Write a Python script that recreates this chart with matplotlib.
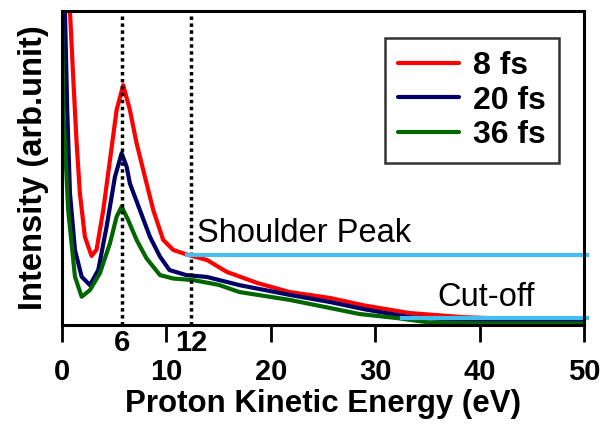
import matplotlib
matplotlib.use("Agg")
import matplotlib.pyplot as plt
import matplotlib.transforms as mtransforms

plt.rcParams["font.family"] = ["Liberation Sans", "DejaVu Sans"]

# ---------------------------------------------------------------------------
# Data (arbitrary intensity units)
# ---------------------------------------------------------------------------
red_x = [0.4, 0.77, 1.08, 1.41, 1.72, 2.2, 2.84, 3.32, 3.96, 4.6, 5.24, 5.87,
         6.51, 7.15, 7.95, 8.75, 9.7, 10.66, 12.1, 13.9, 15.8, 18.7, 21.8,
         25.7, 29.0, 33.3, 38.4, 44.0, 50.0]
red_y = [1.25, 1.0, 0.79, 0.579, 0.42, 0.281, 0.22, 0.24, 0.366, 0.525, 0.685, 0.764,
         0.685, 0.579, 0.472, 0.366, 0.271, 0.239, 0.223, 0.207, 0.169, 0.134, 0.105,
         0.086, 0.062, 0.038, 0.025, 0.018, 0.016]

blue_x = [0.1, 0.29, 0.51, 0.77, 1.25, 1.89, 2.68, 3.48, 4.28, 5.08, 5.72, 6.2,
          6.51, 7.47, 8.43, 9.39, 10.3, 11.9, 13.9, 17.0, 21.8, 25.7, 29.0,
          33.3, 38.0, 44.0, 50.0]
blue_y = [1.3, 1.0, 0.685, 0.42, 0.239, 0.154, 0.127, 0.175, 0.313, 0.472, 0.547, 0.504,
          0.451, 0.366, 0.281, 0.218, 0.175, 0.159, 0.153, 0.127, 0.096, 0.073, 0.05,
          0.025, 0.016, 0.012, 0.01]

green_x = [0.0, 0.13, 0.6, 1.25, 1.89, 2.68, 3.64, 4.6, 5.24, 5.72, 6.35, 7.15,
           8.11, 9.39, 10.66, 12.58, 15.0, 17.0, 21.8, 25.7, 28.5, 32.1, 35.2,
           40.0, 50.0]
green_y = [1.0, 0.685, 0.366, 0.154, 0.09, 0.111, 0.165, 0.26, 0.345, 0.377, 0.334, 0.271,
           0.212, 0.159, 0.148, 0.143, 0.128, 0.105, 0.08, 0.054, 0.035, 0.022, 0.008,
           0.005, 0.005]

labels = ["8 fs", "20 fs", "36 fs"]
colors = ["#ff0000", "#000066", "#006600"]

x_ticks = [0, 10, 20, 30, 40, 50]
marker_x = [5.8, 12.4]
marker_labels = ["6", "12"]

shoulder_x = [12.0, 50.3]
shoulder_y = 0.223
cutoff_x = [32.6, 50.3]
cutoff_y = 0.022

# ---------------------------------------------------------------------------
# Figure
# ---------------------------------------------------------------------------
fig = plt.figure(figsize=(6.07, 4.24), dpi=100)
ax = fig.add_axes([0.102, 0.2335, 0.860, 0.7405])

for xs, ys, lab, col in zip((red_x, blue_x, green_x), (red_y, blue_y, green_y), labels, colors):
    ax.plot(xs, ys, color=col, lw=3, label=lab,
            solid_joinstyle="round", solid_capstyle="round")

for mx in marker_x:
    ax.axvline(mx, color="black", ls=(0, (1, 1)), lw=2.5)

ax.plot(shoulder_x, [shoulder_y] * 2, color="#45bdf0", lw=3, clip_on=False)
ax.plot(cutoff_x, [cutoff_y] * 2, color="#45bdf0", lw=3, clip_on=False)

ax.text(12.9, 0.293, "Shoulder Peak", fontsize=23.5, va="center", ha="left")
ax.text(36.0, 0.086, "Cut-off", fontsize=23.5, va="center", ha="left")

trans = mtransforms.blended_transform_factory(ax.transData, ax.transAxes)
for mx, ml in zip(marker_x, marker_labels):
    ax.text(mx, -0.057, ml, transform=trans, ha="center", va="center",
            fontsize=21, fontweight="bold")

ax.set_xlim(0, 50)
ax.set_ylim(0, 1)
ax.set_xticks(x_ticks)
ax.set_yticks([])
ax.tick_params(axis="x", direction="out", length=12, width=2, pad=12,
               labelsize=21)
for t in ax.get_xticklabels():
    t.set_fontweight("bold")
for sp in ax.spines.values():
    sp.set_linewidth(2.2)

ax.set_xlabel("Proton Kinetic Energy (eV)", fontsize=22.5, fontweight="bold", labelpad=2)
ax.set_ylabel("Intensity (arb.unit)", fontsize=23.5, fontweight="bold", labelpad=9)

leg = ax.legend(loc="upper right", bbox_to_anchor=(0.952, 0.914), borderaxespad=0,
                prop={"weight": "bold", "size": 23}, frameon=True, fancybox=False,
                handlelength=1.9, handletextpad=0.45, labelspacing=0.15,
                borderpad=0.4)
leg.get_frame().set_edgecolor("black")
leg.get_frame().set_linewidth(1.8)

fig.savefig("out.png", dpi=100)
